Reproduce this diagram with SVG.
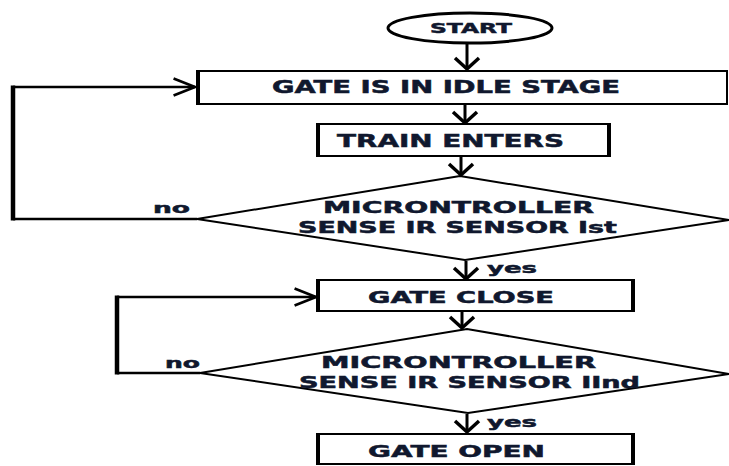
<svg xmlns="http://www.w3.org/2000/svg" width="729" height="466" viewBox="0 0 729 466">
<style>
.box{fill:#fff;stroke:#000;stroke-width:2}
.side{stroke:#000;stroke-width:4}
.dia{fill:#fff;stroke:#000;stroke-width:2}
.t{font-family:"DejaVu Sans","Liberation Sans",sans-serif;font-weight:bold;fill:#10182e;stroke:#10182e;stroke-width:0.5}
.edge{fill:none;stroke:#000;stroke-width:3}
.loopv{fill:none;stroke:#000;stroke-width:4.5}
</style>
<defs>
<marker id="dn" markerUnits="userSpaceOnUse" markerWidth="30" markerHeight="30" viewBox="-15 -15 30 30" refX="0" refY="0" orient="auto">
<path d="M-11,-12 L0,0 L-11,12" fill="none" stroke="#000" stroke-width="3.5"/>
</marker>
<marker id="hz" markerUnits="userSpaceOnUse" markerWidth="30" markerHeight="30" viewBox="-24 -12 28 24" refX="0" refY="0" orient="auto">
<path d="M-20,-8 L0,0 L-20,8" fill="none" stroke="#000" stroke-width="2.5"/>
</marker>
</defs>
<rect width="729" height="466" fill="#fff"/>
<g id="connectors">
<line class="edge" x1="467" y1="44" x2="467" y2="69" marker-end="url(#dn)"/>
<line class="edge" x1="465" y1="105" x2="465" y2="123" marker-end="url(#dn)"/>
<line class="edge" x1="461" y1="157" x2="461" y2="175" marker-end="url(#dn)"/>
<line class="edge" x1="466" y1="261" x2="466" y2="279" marker-end="url(#dn)"/>
<line class="edge" x1="462" y1="312" x2="462" y2="328" marker-end="url(#dn)"/>
<line class="edge" x1="467" y1="414" x2="467" y2="432" marker-end="url(#dn)"/>
<polyline points="197,219 13,219" fill="none" stroke="#000" stroke-width="2.5"/>
<line class="loopv" x1="13" y1="220.5" x2="13" y2="85.5"/>
<polyline points="13,87 195,87" fill="none" stroke="#000" stroke-width="2.5" marker-end="url(#hz)"/>
<polyline points="200,373 117,373" fill="none" stroke="#000" stroke-width="2.5"/>
<line class="loopv" x1="117" y1="374.5" x2="117" y2="295.5"/>
<polyline points="117,297 316,297" fill="none" stroke="#000" stroke-width="2.5" marker-end="url(#hz)"/>
<text class="t" x="153" y="213" font-size="14.5" textLength="37" lengthAdjust="spacingAndGlyphs">no</text>
<text class="t" x="165" y="368" font-size="14.5" textLength="35" lengthAdjust="spacingAndGlyphs">no</text>
<text class="t" x="487" y="273" font-size="14.5" textLength="50" lengthAdjust="spacingAndGlyphs">yes</text>
<text class="t" x="487" y="427" font-size="14.5" textLength="50" lengthAdjust="spacingAndGlyphs">yes</text>
</g>
<g id="start">
<ellipse cx="470" cy="28" rx="82" ry="15" fill="#fff" stroke="#000" stroke-width="3"/>
<text class="t" x="430" y="32.5" font-size="14" textLength="82" lengthAdjust="spacingAndGlyphs">START</text>
</g>
<g id="idle">
<rect class="box" x="198" y="71" width="529" height="33"/>
<line class="side" x1="198" y1="70" x2="198" y2="105"/>
<text class="t" x="272" y="93" font-size="17" textLength="348" lengthAdjust="spacingAndGlyphs">GATE IS IN IDLE STAGE</text>
</g>
<g id="train">
<rect class="box" x="318" y="124" width="291" height="32"/>
<line class="side" x1="318" y1="123" x2="318" y2="157"/>
<line class="side" x1="609" y1="123" x2="609" y2="157"/>
<text class="t" x="337" y="146.5" font-size="17.5" textLength="227" lengthAdjust="spacingAndGlyphs">TRAIN ENTERS</text>
</g>
<g id="decision1">
<polygon class="dia" points="197,219 460,176 729,220 465,260"/>
<text class="t" x="323" y="213" font-size="15.5" textLength="271" lengthAdjust="spacingAndGlyphs">MICRONTROLLER</text>
<text class="t" x="298" y="233" font-size="15.5" textLength="319" lengthAdjust="spacingAndGlyphs">SENSE IR SENSOR Ist</text>
</g>
<g id="close">
<rect class="box" x="318" y="280" width="315" height="31"/>
<line class="side" x1="318" y1="279" x2="318" y2="312"/>
<line class="side" x1="633" y1="279" x2="633" y2="312"/>
<text class="t" x="368" y="303" font-size="16" textLength="186" lengthAdjust="spacingAndGlyphs">GATE CLOSE</text>
</g>
<g id="decision2">
<polygon class="dia" points="200,373 467,329 729,374 468,413"/>
<text class="t" x="321" y="368" font-size="15.5" textLength="275" lengthAdjust="spacingAndGlyphs">MICRONTROLLER</text>
<text class="t" x="299" y="388" font-size="15.5" textLength="341" lengthAdjust="spacingAndGlyphs">SENSE IR SENSOR IInd</text>
</g>
<g id="open">
<rect class="box" x="318" y="434" width="315" height="30"/>
<line class="side" x1="318" y1="433" x2="318" y2="465"/>
<line class="side" x1="633" y1="433" x2="633" y2="465"/>
<text class="t" x="368" y="457" font-size="16.5" textLength="177" lengthAdjust="spacingAndGlyphs">GATE OPEN</text>
</g>
</svg>
